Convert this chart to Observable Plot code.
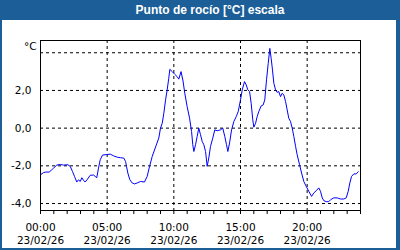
<!DOCTYPE html>
<html>
<head>
<meta charset="utf-8">
<script src="https://cdn.jsdelivr.net/npm/d3@7"></script>
<script src="https://cdn.jsdelivr.net/npm/@observablehq/plot@0.6"></script>
<style>
  html, body { margin: 0; padding: 0; background: #ffffff; }
  #card { position: relative; width: 400px; height: 250px; background: #1c5e98; overflow: hidden; }
  #title { position: absolute; left: 210px; top: 3px; transform: translateX(-50%); white-space: nowrap;
           color: #ffffff; font-family: "Liberation Sans", sans-serif; font-weight: bold; font-size: 12px; }
  #panel { position: absolute; left: 2px; top: 20px; width: 394px; height: 228px; background: #ffffff; }
  #panel svg { display: block; }
</style>
</head>
<body>
<div id="card">
  <div id="title">Punto de rocío [°C] escala</div>
  <div id="panel"></div>
</div>
<script>
const chartTitle = "Punto de rocío [°C] escala";
const unitLabel = "°C";
const hours = [0.05,0.23,0.4,0.65,0.8,0.98,1.22,1.48,1.73,2.05,2.23,2.4,2.55,2.72,2.85,2.98,3.1,3.23,3.35,3.53,3.73,3.98,4.1,4.22,4.35,4.48,4.65,4.97,5.23,5.48,5.75,6.0,6.25,6.38,6.45,6.55,6.7,6.88,7.05,7.25,7.5,7.8,8.0,8.18,8.38,8.63,8.87,9.0,9.13,9.25,9.38,9.5,9.62,9.7,9.88,10.05,10.25,10.37,10.54,10.69,10.82,11.0,11.18,11.33,11.42,11.5,11.63,11.75,11.87,12.0,12.13,12.25,12.38,12.5,12.62,12.75,12.92,13.07,13.25,13.5,13.67,13.82,13.95,14.05,14.18,14.33,14.5,14.68,14.83,15.0,15.13,15.3,15.43,15.55,15.68,15.8,15.92,16.0,16.13,16.25,16.37,16.55,16.7,16.82,16.95,17.08,17.2,17.3,17.4,17.5,17.63,17.75,17.87,18.0,18.13,18.25,18.38,18.5,18.62,18.75,18.88,19.0,19.13,19.25,19.43,19.58,19.75,19.93,20.12,20.33,20.5,20.68,20.87,21.0,21.13,21.25,21.43,21.62,21.77,22.0,22.25,22.5,22.75,22.93,23.08,23.2,23.33,23.5,23.68,23.83];
const dewPoint = [-2.45,-2.36,-2.33,-2.33,-2.24,-2.12,-1.96,-1.93,-1.96,-1.94,-2.03,-2.3,-2.56,-2.86,-2.74,-2.83,-2.63,-2.77,-2.86,-2.7,-2.5,-2.49,-2.56,-2.63,-2.12,-1.68,-1.43,-1.4,-1.38,-1.47,-1.54,-1.57,-1.59,-1.77,-2.03,-2.38,-2.74,-2.91,-2.96,-2.91,-2.83,-2.86,-2.56,-2.03,-1.5,-1.0,-0.53,0.0,0.26,0.79,1.5,2.03,2.65,3.12,3.0,2.87,2.73,2.6,3.0,2.5,1.85,1.14,0.53,-0.18,-0.88,-1.24,-0.88,-0.44,0.0,-0.35,-0.71,-0.88,-1.24,-2.03,-1.59,-0.97,-0.53,-0.09,-0.14,-0.09,0.0,-0.44,-0.88,-1.24,-0.79,-0.09,0.35,0.61,0.88,1.5,2.03,2.47,2.29,2.03,1.94,1.32,0.44,0.05,0.26,0.61,0.88,1.18,1.23,1.5,2.56,3.44,4.23,3.7,3.08,2.38,2.03,1.9,1.94,1.67,1.85,1.76,1.41,0.97,0.53,0.35,0.0,-0.44,-0.97,-1.41,-1.94,-2.38,-2.83,-3.09,-3.35,-3.62,-3.44,-3.32,-3.17,-3.35,-3.7,-3.85,-3.9,-3.9,-3.79,-3.7,-3.7,-3.76,-3.76,-3.7,-3.35,-2.91,-2.56,-2.43,-2.43,-2.31];
const xLabelHours = [0, 5, 10, 15, 20];
const xLabelTimes = ["00:00", "05:00", "10:00", "15:00", "20:00"];
const xLabelDate = "23/02/26";
const xMinorHours = d3.range(0, 25);
const xGridHours = [5, 10, 15, 20];
const yGridValues = [-4, -2, 0, 2, 4];
const yLabelValues = [-4, -2, 0, 2];

document.getElementById("title").textContent = chartTitle;

const table = hours.map((h, i) => ({ h, v: dewPoint[i] }));
const labelOf = new Map(xLabelHours.map((h, i) => [h, xLabelTimes[i] + "\n" + xLabelDate]));
const dash = "3,3";

const chart = Plot.plot({
  width: 394,
  height: 228,
  marginLeft: 38,
  marginRight: 36,
  marginTop: 20,
  marginBottom: 38,
  style: { fontFamily: "DejaVu Sans", fontSize: "10.5px", color: "#000", background: "#fff" },
  x: { domain: [0, 24] },
  y: { domain: [-4.37, 4.65] },
  marks: [
    Plot.gridX(xGridHours, { stroke: "#000", strokeOpacity: 1, strokeDasharray: dash }),
    Plot.gridY(yGridValues, { stroke: "#000", strokeOpacity: 1, strokeDasharray: dash }),
    Plot.axisX(xMinorHours, { tickSize: 4, tickFormat: () => "", stroke: "#000", label: null }),
    Plot.axisX(xLabelHours, { tickSize: 0, tickPadding: 11, tickFormat: d => labelOf.get(d), lineHeight: 1.28, fill: "#000", label: null }),
    Plot.axisY(yLabelValues, { tickSize: 0, tickPadding: 9, tickFormat: d => d.toFixed(1).replace(".", ","), fill: "#000", label: null }),
    Plot.text([unitLabel], { frameAnchor: "top-left", lineAnchor: "middle", textAnchor: "end", dx: -4, dy: 6, fill: "#000" }),
    Plot.frame({ stroke: "#000" }),
    Plot.line(table, { x: "h", y: "v", stroke: "#0000ff", strokeWidth: 1 })
  ]
});
document.getElementById("panel").appendChild(chart);
</script>
</body>
</html>
